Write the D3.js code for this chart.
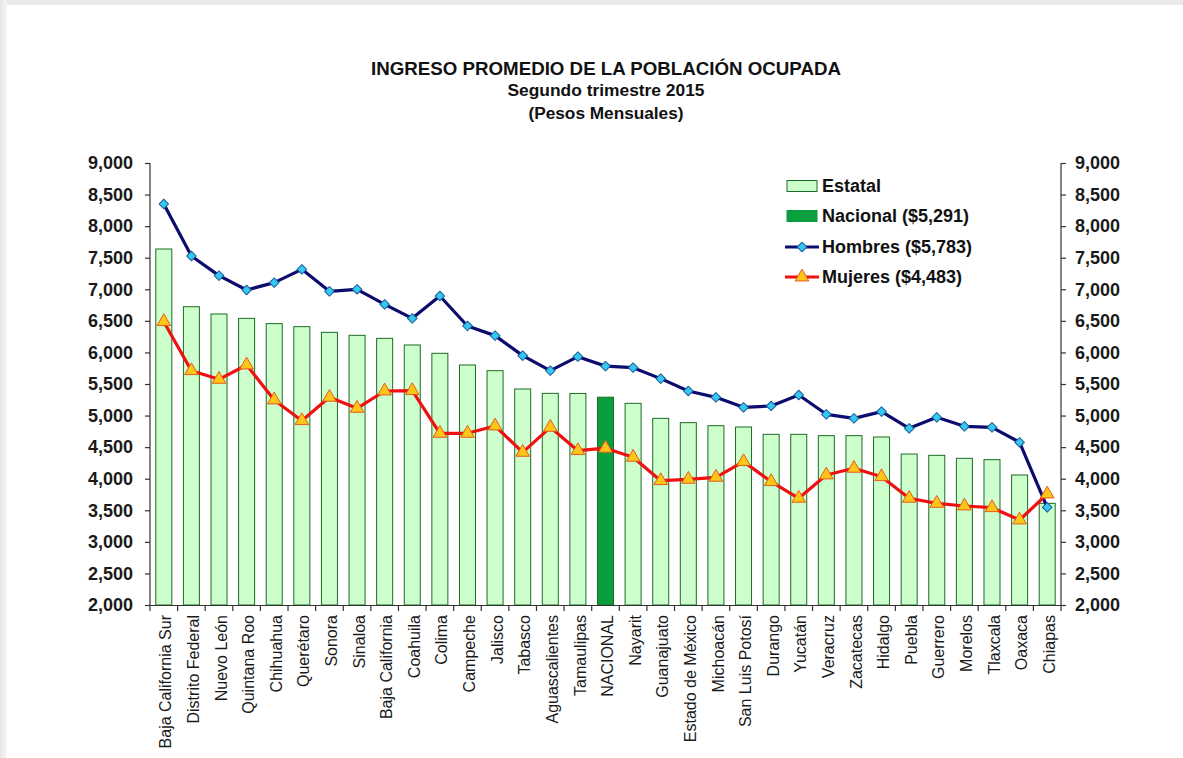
<!DOCTYPE html>
<html><head><meta charset="utf-8">
<script src="https://cdn.jsdelivr.net/npm/d3@7"></script>
<style>
html,body{margin:0;padding:0;background:#fff;}
svg{display:block;}
</style></head>
<body>
<svg id="c" width="1183" height="758"></svg>
<script>
const categories = ["Baja California Sur","Distrito Federal","Nuevo León","Quintana Roo","Chihuahua","Querétaro","Sonora","Sinaloa","Baja California","Coahuila","Colima","Campeche","Jalisco","Tabasco","Aguascalientes","Tamaulipas","NACIONAL","Nayarit","Guanajuato","Estado de México","Michoacán","San Luis Potosí","Durango","Yucatán","Veracruz","Zacatecas","Hidalgo","Puebla","Guerrero","Morelos","Tlaxcala","Oaxaca","Chiapas"];
const estatal = [7638,6724,6609,6540,6456,6408,6318,6271,6223,6118,5986,5801,5711,5421,5352,5350,5291,5194,4956,4888,4840,4819,4703,4703,4682,4682,4661,4391,4370,4323,4302,4059,3610];
const hombres = [8351,7527,7216,6989,7105,7316,6968,7000,6762,6540,6894,6419,6266,5949,5711,5933,5783,5759,5585,5389,5289,5131,5152,5326,5020,4956,5062,4798,4972,4830,4814,4577,3547];
const mujeres = [6487,5711,5574,5801,5247,4919,5289,5115,5389,5395,4719,4719,4835,4418,4814,4444,4483,4339,3969,3991,4022,4270,3953,3690,4059,4165,4032,3690,3610,3568,3541,3346,3758];
const yTicks = [2000,2500,3000,3500,4000,4500,5000,5500,6000,6500,7000,7500,8000,8500,9000];
const legendLabels = ["Estatal","Nacional ($5,291)","Hombres ($5,783)","Mujeres ($4,483)"];
const titleLines = ["INGRESO PROMEDIO DE LA POBLACIÓN OCUPADA","Segundo trimestre 2015","(Pesos Mensuales)"];
const nationalName = "NACIONAL";

(function(){
const svg = d3.select("#c");
const FONT = "'Liberation Sans', Arial, sans-serif";

// page frame shading
const defs = svg.append("defs");
const gl = defs.append("linearGradient").attr("id","gl").attr("x1","0").attr("x2","1").attr("y1","0").attr("y2","0");
gl.append("stop").attr("offset","0").attr("stop-color","#e6e6e6");
gl.append("stop").attr("offset","1").attr("stop-color","#f6f6f6");
svg.append("rect").attr("x",0).attr("y",0).attr("width",1183).attr("height",5).attr("fill","#ebebeb");
svg.append("rect").attr("x",0).attr("y",0).attr("width",7).attr("height",758).attr("fill","url(#gl)");

const pL = 150, pR = 1061, pT = 163, pB = 605;
const x = d3.scaleBand().domain(categories).range([pL,pR]).paddingInner(0.42).paddingOuter(0.21);
const y = d3.scaleLinear().domain([2000,9000]).range([pB,pT]);

// titles
const tSizes = [18,16,16], tY = [75,96,119], tW = [470,197,155];
titleLines.forEach((t,i)=>{
  svg.append("text").attr("x",606).attr("y",tY[i]).attr("text-anchor","middle")
    .attr("font-family",FONT).attr("font-weight","bold").attr("font-size",tSizes[i]).attr("fill","#111")
    .attr("textLength",tW[i]).attr("lengthAdjust","spacingAndGlyphs").text(t);
});

// bars
svg.append("g").selectAll("rect").data(categories).join("rect")
  .attr("x",d=>x(d)).attr("width",x.bandwidth())
  .attr("y",(d,i)=>y(estatal[i])).attr("height",(d,i)=>pB - y(estatal[i]))
  .attr("fill",d=>d===nationalName?"#0b9e3e":"#ccffcc")
  .attr("stroke","#1d6b24").attr("stroke-width",1);

// axes
const fmt = d3.format(",");
const ax = svg.append("g").attr("transform",`translate(${pL},0)`)
  .call(d3.axisLeft(y).tickValues(yTicks).tickFormat(fmt).tickSize(5).tickPadding(12));
const ax2 = svg.append("g").attr("transform",`translate(${pR},0)`)
  .call(d3.axisRight(y).tickValues(yTicks).tickFormat(fmt).tickSize(5).tickPadding(9));
[ax,ax2].forEach((a,k)=>{
  a.select(".domain").attr("stroke","#333").attr("stroke-width",1.2).attr("d", `M0,${pT}V${pB}`);
  a.selectAll(".tick line").attr("stroke","#333").attr("stroke-width",1.2);
  a.selectAll(".tick text").attr("font-family",FONT).attr("font-weight","bold").attr("font-size",18).attr("fill","#1a1a1a");
});

// x axis line & boundary ticks
const xb = svg.append("g");
xb.append("line").attr("x1",pL).attr("x2",pR).attr("y1",pB+0.5).attr("y2",pB+0.5).attr("stroke","#333").attr("stroke-width",1.2);
const step = x.step();
const bounds = categories.map(d=>x(d) + x.bandwidth()/2 - step/2).concat([x(categories[categories.length-1]) + x.bandwidth()/2 + step/2]);
xb.selectAll("line.t").data(bounds).join("line").attr("class","t")
  .attr("x1",d=>d).attr("x2",d=>d).attr("y1",pB).attr("y2",pB+6).attr("stroke","#333").attr("stroke-width",1.2);
xb.selectAll("text").data(categories).join("text")
  .attr("transform",d=>`translate(${x(d)+x.bandwidth()/2+2},615) rotate(-90)`)
  .attr("text-anchor","end").attr("dy","0.35em")
  .attr("font-family",FONT).attr("font-size",16).attr("fill","#1a1a1a").text(d=>d);

// lines
const cx = d=>x(d)+x.bandwidth()/2;
const lineH = d3.line().x((v,i)=>cx(categories[i])).y(v=>y(v));
svg.append("path").attr("d",lineH(hombres)).attr("fill","none").attr("stroke","#0c0c6e").attr("stroke-width",3.2).attr("stroke-linejoin","round");
svg.append("path").attr("d",lineH(mujeres)).attr("fill","none").attr("stroke","#ee1111").attr("stroke-width",3.2).attr("stroke-linejoin","round");

const diamond = d3.symbol().type(d3.symbolSquare).size(46);
const tri = d3.symbol().type(d3.symbolTriangle).size(80);
svg.append("g").selectAll("path").data(hombres).join("path")
  .attr("transform",(v,i)=>`translate(${cx(categories[i])},${y(v)}) rotate(45)`)
  .attr("d",diamond).attr("fill","#35c8f0").attr("stroke","#1a5a9a").attr("stroke-width",1).attr("stroke-linejoin","round");
svg.append("g").selectAll("path").data(mujeres).join("path")
  .attr("transform",(v,i)=>`translate(${cx(categories[i])},${y(v)})`)
  .attr("d",tri).attr("fill","#ffc61a").attr("stroke","#e8591a").attr("stroke-width",1);

// legend
const lg = svg.append("g");
const ly = [186,216,247,277];
lg.append("rect").attr("x",787).attr("y",ly[0]-5.5).attr("width",30).attr("height",11).attr("fill","#ccffcc").attr("stroke","#1d6b24");
lg.append("rect").attr("x",787).attr("y",ly[1]-5.5).attr("width",30).attr("height",11).attr("fill","#0b9e3e").attr("stroke","#0b9e3e");
lg.append("line").attr("x1",785).attr("x2",819).attr("y1",ly[2]).attr("y2",ly[2]).attr("stroke","#0c0c6e").attr("stroke-width",3.2);
lg.append("path").attr("transform",`translate(802,${ly[2]}) rotate(45)`).attr("d",diamond).attr("fill","#35c8f0").attr("stroke","#1a5a9a");
lg.append("line").attr("x1",785).attr("x2",819).attr("y1",ly[3]).attr("y2",ly[3]).attr("stroke","#ee1111").attr("stroke-width",3.2);
lg.append("path").attr("transform",`translate(802,${ly[3]})`).attr("d",tri).attr("fill","#ffc61a").attr("stroke","#e8591a");
legendLabels.forEach((t,i)=>{
  lg.append("text").attr("x",822).attr("y",ly[i]).attr("dy","0.36em")
    .attr("font-family",FONT).attr("font-weight","bold").attr("font-size",18).attr("fill","#111").text(t);
});
})();
</script>
</body></html>
